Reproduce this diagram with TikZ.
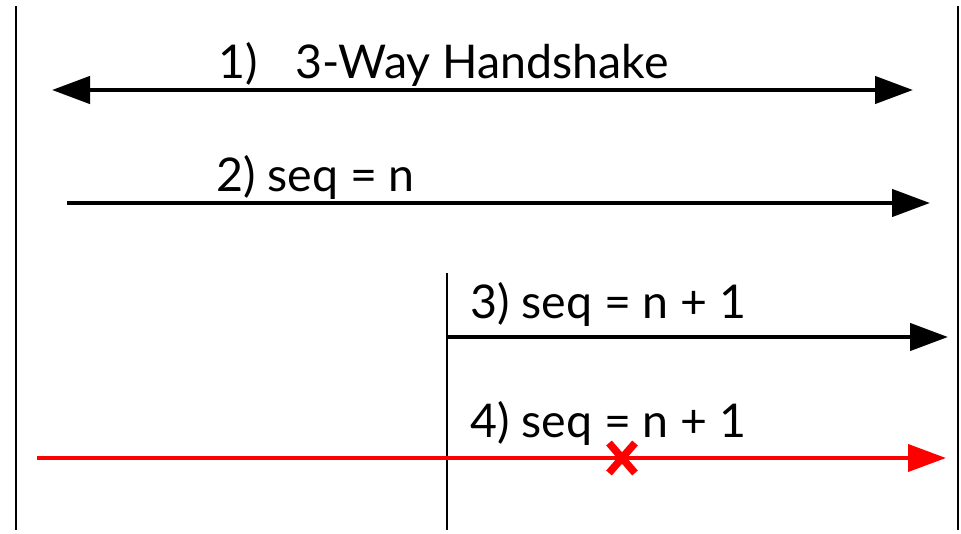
\documentclass[tikz,border=0pt]{standalone}
\usepackage{fontspec}
\setmainfont{Lato}
\usetikzlibrary{arrows.meta}
\begin{document}
\begin{tikzpicture}[x=1pt,y=-1pt,
  lifeline/.style={line width=1.5pt,black},
  msg/.style={line width=4.5pt,-{Triangle[length=38pt,width=27pt]}},
  lbl/.style={anchor=base west,inner sep=0pt,font=\fontsize{46.5}{52}\selectfont}]
\useasboundingbox (0,0) rectangle (961,533);
% lifelines
\coordinate (Ltop) at (16,6); \coordinate (Lbot) at (16,530);
\coordinate (Rtop) at (958,6); \coordinate (Rbot) at (958,530);
\coordinate (Mtop) at (447,273); \coordinate (Mbot) at (447,530);
\draw[lifeline] (Ltop) -- (Lbot);
\draw[lifeline] (Rtop) -- (Rbot);
\draw[lifeline] (Mtop) -- (Mbot);
% messages
\coordinate (a1) at (52,90); \coordinate (b1) at (913,90);
\draw[msg,{Triangle[length=38pt,width=27pt]}-{Triangle[length=38pt,width=27pt]}] (a1) -- (b1);
\coordinate (a2) at (67,203); \coordinate (b2) at (930,203);
\draw[msg] (a2) -- (b2);
\coordinate (a3) at (447,337); \coordinate (b3) at (948,337);
\draw[msg] (a3) -- (b3);
\coordinate (a4) at (37,458); \coordinate (b4) at (946,458);
\draw[msg,red,line width=4pt] (a4) -- (b4);
% X mark
\coordinate (xc) at (622,458);
\draw[red,line width=7.5pt] ([shift={(-13,-15)}]xc) -- ([shift={(13,15)}]xc)
  ([shift={(13,-15)}]xc) -- ([shift={(-13,15)}]xc);
% labels
\node[lbl] (t1a) at (218,78) {1)};
\node[lbl] (t1b) at (295,78) {3-Way Handshake};
\node[lbl] (t2) at (216,191) {2) seq = n};
\node[lbl] (t3) at (470,318) {3) seq = n + 1};
\node[lbl] (t4) at (470,437) {4) seq = n + 1};
\end{tikzpicture}
\end{document}
